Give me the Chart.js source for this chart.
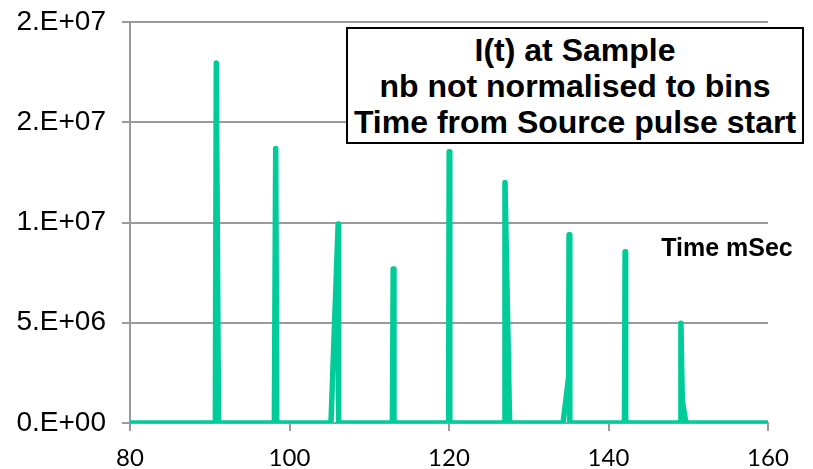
<!DOCTYPE html>
<html>
<head>
<meta charset="utf-8">
<script src="https://cdn.jsdelivr.net/npm/chart.js@4"></script>
<style>
  body { margin: 0; background: #fff; }
  #wrap { position: relative; width: 813px; height: 469px; }
  #titleBox {
    position: absolute; left: 346px; top: 27px; width: 454px; height: 113px;
    border: 2px solid #000; background: #fff;
    font: bold 32px "Liberation Sans", Arial, sans-serif; line-height: 36px;
    text-align: center; display: flex; flex-direction: column; justify-content: center;
    white-space: nowrap;
  }
  #xTitle {
    position: absolute; left: 650px; top: 235px; width: 154px; text-align: center;
    font: bold 25px "Liberation Sans", Arial, sans-serif; line-height: 25px;
    white-space: nowrap;
  }
</style>
</head>
<body>
<div id="wrap">
  <canvas id="pulseChart" width="813" height="469"></canvas>
  <div id="titleBox"><div>I(t) at Sample</div><div>nb not normalised to bins</div><div>Time from Source pulse start</div></div>
  <div id="xTitle">Time mSec</div>
</div>
<script>
// time (ms) and intensity
const times = [80,
  90.7, 90.82, 91.1,
  98.1, 98.27, 98.4,
  105.2, 106.1, 106.15,
  112.9, 113.0, 113.1,
  119.95, 120.02, 120.1,
  126.95, 127.02, 127.6,
  134.3, 135.0, 135.05, 135.15,
  142.0, 142.08, 142.15,
  149.0, 149.08, 149.25, 149.7,
  160];
const intensity = [0,
  0, 1.796e7, 0,
  0, 1.369e7, 0,
  0, 9.93e6, 0,
  0, 7.68e6, 0,
  0, 1.353e7, 0,
  0, 1.20e7, 0,
  0, 2.3e6, 9.39e6, 0,
  0, 8.54e6, 0,
  0, 4.98e6, 1.15e6, 0,
  0];

const xTicks = [80, 100, 120, 140, 160];
const yTicks = [0, 5e6, 1e7, 1.5e7, 2e7];
const yTickLabels = ['0.E+00', '5.E+06', '1.E+07', '2.E+07', '2.E+07'];

const gridColor = '#9a9a9a';
const points = times.map((t, i) => ({ x: t, y: intensity[i] }));

const ctx = document.getElementById('pulseChart').getContext('2d');
new Chart(ctx, {
    type: 'scatter',
    data: {
        datasets: [{
            data: points,
            showLine: true,
            borderColor: '#00cc99',
            borderWidth: 5.5,
            borderCapStyle: 'round',
            borderJoinStyle: 'round',
            pointRadius: 0,
            tension: 0
        }]
    },
    options: {
        responsive: false,
        animation: false,
        layout: { padding: { top: 22, right: 45, left: 0, bottom: 0 } },
        plugins: {
            legend: { display: false },
            tooltip: { enabled: false }
        },
        scales: {
            x: {
                type: 'linear',
                min: xTicks[0],
                max: xTicks[xTicks.length - 1],
                afterBuildTicks: axis => { axis.ticks = xTicks.map(v => ({ value: v })); },
                afterFit: axis => { axis.height = 46; },
                grid: { drawOnChartArea: false, drawTicks: true, tickLength: 8, color: gridColor, lineWidth: 2 },
                border: { display: true, color: gridColor, width: 2 },
                ticks: {
                    color: '#000',
                    padding: 13,
                    maxRotation: 0,
                    font: { family: 'Lato, "Open Sans", sans-serif', size: 24 }
                }
            },
            y: {
                min: yTicks[0],
                max: yTicks[yTicks.length - 1],
                afterBuildTicks: axis => { axis.ticks = yTicks.map(v => ({ value: v })); },
                afterFit: axis => { axis.width = 130; },
                grid: { drawTicks: true, tickLength: 8, color: gridColor, lineWidth: 2 },
                border: { display: true, color: gridColor, width: 2 },
                ticks: {
                    color: '#000',
                    padding: 16,
                    font: { family: '"Liberation Sans", Arial, sans-serif', size: 28, lineHeight: 0.4 },
                    callback: (value, index) => yTickLabels[index]
                }
            }
        }
    }
});
</script>
</body>
</html>
